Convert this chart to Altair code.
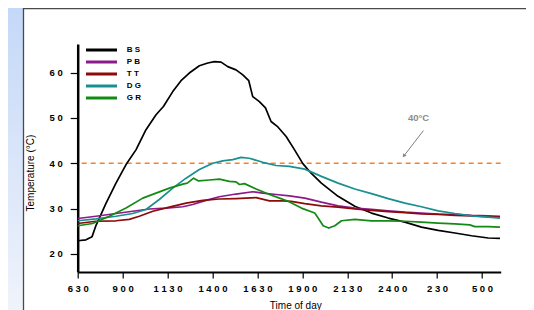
import altair as alt
import pandas as pd

series = ["BS", "PB", "TT", "DG", "GR"]
colors = ["#000000", "#8b1a8b", "#8b0a0a", "#1a8f8f", "#138a13"]

tick_hours = [6.5, 9, 11.5, 14, 16.5, 19, 21.5, 24, 26.5, 29]
tick_labels = ["630", "900", "1130", "1400", "1630", "1900", "2130", "2400", "230", "500"]
y_ticks = [20, 30, 40, 50, 60]

bs_h = [6.5, 6.96, 7.3, 7.52, 8.08, 8.63, 9.19, 9.75, 10.30, 10.86, 11.27, 11.79, 12.25, 12.71, 13.27,
        13.74, 14.11, 14.48, 14.85, 15.31, 15.69, 16.02, 16.24, 16.61, 16.95, 17.26, 17.64, 18.10,
        18.56, 19.03, 19.49, 20.06, 20.99, 21.92, 22.85, 23.78, 24.71, 25.63, 26.56, 27.49, 28.42,
        29.35, 30.0]
bs_v = [22.9, 23.1, 23.8, 26.3, 31.2, 35.6, 39.7, 43.0, 47.4, 50.7, 52.5, 55.8, 58.2, 59.9, 61.5,
        62.1, 62.4, 62.3, 61.3, 60.6, 59.5, 58.2, 54.7, 53.6, 52.2, 49.2, 48.0, 45.9,
        43.0, 39.9, 37.8, 35.6, 32.7, 30.5, 29.0, 27.9, 27.0, 25.9, 25.2, 24.6, 24.0,
        23.5, 23.4]

pb_h = [6.5, 7.52, 8.63, 9.56, 10.49, 11.42, 12.35, 12.90, 13.64, 14.38, 15.31, 16.24, 16.80, 17.54,
        18.28, 19.14, 20.06, 20.99, 21.92, 22.85, 23.78, 24.71, 25.63, 26.56, 27.49, 28.42, 29.35, 30.0]
pb_v = [27.8, 28.3, 28.9, 29.4, 29.9, 30.1, 30.4, 30.9, 31.8, 32.6, 33.2, 33.7, 33.4, 33.1,
        32.8, 32.3, 31.4, 30.6, 30.1, 29.8, 29.5, 29.2, 29.0, 28.8, 28.7, 28.5, 28.4, 28.3]

tt_h = [6.5, 7.52, 8.63, 9.37, 9.93, 10.68, 11.60, 12.53, 13.46, 14.38, 15.31, 16.43, 17.17, 17.91,
        18.38, 19.14, 20.06, 20.99, 21.92, 22.85, 23.78, 24.71, 25.63, 26.56, 27.49, 28.42, 29.35, 30.0]
tt_v = [26.7, 27.2, 27.3, 27.6, 28.3, 29.4, 30.3, 31.2, 31.8, 32.1, 32.2, 32.4, 31.7, 31.7,
        31.6, 31.1, 30.6, 30.3, 29.9, 29.6, 29.3, 29.1, 28.8, 28.7, 28.5, 28.4, 28.2, 28.1]

dg_h = [6.5, 7.52, 8.63, 9.56, 10.30, 11.04, 11.79, 12.53, 13.27, 14.02, 14.57, 15.13, 15.59, 16.05,
        16.80, 17.54, 18.28, 19.14, 20.06, 20.99, 21.92, 22.85, 23.78, 24.71, 25.63, 26.56, 27.49,
        28.42, 29.35, 30.0]
dg_v = [27.3, 27.7, 28.3, 28.9, 29.8, 32.0, 34.5, 36.7, 38.6, 40.0, 40.5, 40.8, 41.3, 41.1,
        40.2, 39.5, 39.3, 38.7, 37.1, 35.6, 34.3, 33.3, 32.2, 31.2, 30.4, 29.5, 28.9,
        28.4, 28.1, 27.9]

gr_h = [6.5, 7.33, 8.26, 9.19, 10.12, 10.86, 11.60, 12.35, 12.6, 12.95, 13.23, 13.83, 14.38, 14.94,
        15.31, 15.50, 15.78, 16.43, 17.17, 17.73, 18.21, 18.95, 19.69, 19.88, 20.16, 20.47, 20.81,
        21.18, 21.92, 22.85, 23.78, 24.71, 25.63, 26.56, 27.49, 28.32, 28.60, 29.35, 30.0]
gr_v = [26.2, 26.7, 28.3, 30.1, 32.3, 33.4, 34.5, 35.4, 35.6, 36.7, 36.1, 36.3, 36.5, 36.0,
        35.9, 35.3, 35.5, 34.3, 33.1, 32.3, 31.6, 30.1, 29.0, 27.9, 26.2, 25.7, 26.2,
        27.3, 27.6, 27.3, 27.3, 27.2, 27.0, 26.8, 26.6, 26.4, 26.0, 26.0, 25.9]

threshold = [40]
note_text = ["40°C"]
note_h = [25.47]
note_v = [50.0]
arrow_h = [25.74, 24.67]
arrow_v = [47.2, 41.7]

rows = []
for name, hs, vs in [("BS", bs_h, bs_v), ("PB", pb_h, pb_v), ("TT", tt_h, tt_v),
                     ("DG", dg_h, dg_v), ("GR", gr_h, gr_v)]:
    for h, v in zip(hs, vs):
        rows.append({"series": name, "hour": h, "temp": v})
df = pd.DataFrame(rows)

FONT = "Liberation Sans"
spaced_x = ",".join("'" + " ".join(l) + "'" for l in tick_labels)
hours_js = ",".join(str(h) for h in tick_hours)
x_label_expr = f"[{spaced_x}][indexof([{hours_js}], datum.value)]"
y_label_expr = "substring(toString(datum.value),0,1)+' '+substring(toString(datum.value),1)"

X = alt.X("hour:Q",
          scale=alt.Scale(domain=[6.5, 30.04], nice=False, zero=False),
          axis=alt.Axis(values=tick_hours, labelExpr=x_label_expr, grid=False,
                        domainColor="#000", domainWidth=2, tickColor="#000", tickWidth=1.2,
                        tickSize=6, labelFont=FONT, labelFontWeight="bold", labelFontSize=9.5,
                        labelColor="#000", labelPadding=5, labelFlush=False,
                        title="Time of day", titleFont=FONT, titleFontSize=10,
                        titleFontWeight="normal", titleColor="#000", titleX=217.6, titleY=28.5,
                        titleBaseline="top", titleAlign="center"))
Y = alt.Y("temp:Q",
          scale=alt.Scale(domain=[16.0, 66.3], nice=False, zero=False),
          axis=alt.Axis(values=y_ticks, labelExpr=y_label_expr, grid=False,
                        domainColor="#000", domainWidth=2.5, tickColor="#000", tickWidth=1.2,
                        tickSize=7.5, labelFont=FONT, labelFontWeight="bold", labelFontSize=9.5,
                        labelColor="#000", labelPadding=8,
                        title="Temperature (°C)", titleFont=FONT, titleFontSize=10,
                        titleFontWeight="normal", titleColor="#000", titleX=-47.2, titleY=128.6,
                        titleBaseline="middle", titleAlign="center", titleAngle=-90))

one = pd.DataFrame({"a": [0]})
bg = alt.Chart(one).mark_rect(
    color=alt.Gradient(gradient="linear",
                       stops=[alt.GradientStop(color="#c4d8f8", offset=0),
                              alt.GradientStop(color="#eff3fb", offset=1)],
                       x1=0, x2=0, y1=0, y2=1)
).encode(x=alt.value(-69.7), x2=alt.value(-54.4), y=alt.value(-36), y2=alt.value(266))
border_l = alt.Chart(one).mark_rule(color="#4a4a4a", strokeWidth=1.3).encode(
    x=alt.value(-54.2), y=alt.value(-36), y2=alt.value(266))
border_t = alt.Chart(one).mark_rule(color="#4a4a4a", strokeWidth=1.3).encode(
    x=alt.value(-54.8), x2=alt.value(460), y=alt.value(-35.4))

rule = alt.Chart(pd.DataFrame({"temp": threshold})).mark_rule(
    color="#f5822a", strokeWidth=1.5, strokeDash=[5, 4]).encode(y=Y)

lines = alt.Chart(df).mark_line(strokeJoin="round", strokeWidth=1.7).encode(
    x=X, y=Y,
    color=alt.Color("series:N", sort=series,
                    scale=alt.Scale(domain=series, range=colors),
                    legend=alt.Legend(orient="none", legendX=8.3, legendY=2, title=None,
                                      symbolType="M-6.2,0L6.2,0", symbolSize=25,
                                      symbolStrokeWidth=3, symbolOffset=11.5, labelOffset=21.3,
                                      labelFont=FONT, labelFontWeight="bold", labelFontSize=8,
                                      labelColor="#000", labelExpr="substring(datum.label,0,1)+' '+substring(datum.label,1)",
                                      rowPadding=0, padding=0)),
    order=alt.Order("hour:Q"),
)

arrow_df = pd.DataFrame({"hour": arrow_h, "temp": arrow_v})
arrow = alt.Chart(arrow_df).mark_line(color="#808080", strokeWidth=1).encode(x=X, y=Y)
head = alt.Chart(arrow_df.iloc[[1]]).mark_point(shape="triangle", angle=218, size=16,
                                                 filled=True, color="#808080", opacity=1).encode(x=X, y=Y)
note = alt.Chart(pd.DataFrame({"hour": note_h, "temp": note_v, "t": note_text})).mark_text(
    font=FONT, fontWeight="bold", fontSize=9.5, color="#8c8c8c").encode(x=X, y=Y, text="t:N")

chart = alt.layer(bg, border_l, border_t, rule, lines, arrow, head, note).properties(
    width=423, height=228,
    padding={"left": 69.7, "top": 36, "right": 25.3, "bottom": 38},
    autosize=alt.AutoSizeParams(type="none"),
    background="white",
).configure_view(stroke=None)

chart.save("out.html", embed_options={"renderer": "svg", "actions": False})
